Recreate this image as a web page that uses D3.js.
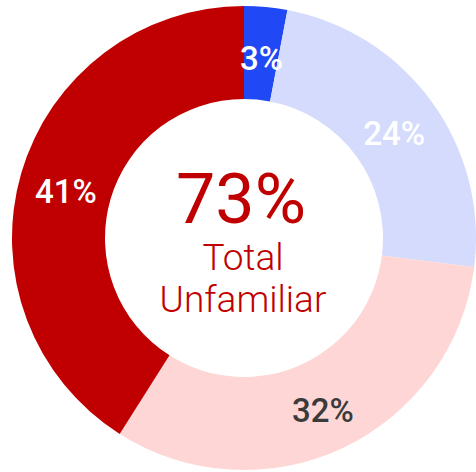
<!DOCTYPE html>
<meta charset="utf-8">
<style>
  body { margin: 0; background: #fff; }
  text { font-family: Roboto, "Liberation Sans", sans-serif; }
</style>
<script src="https://d3js.org/d3.v7.min.js"></script>
<div id="chart"></div>
<script>
  // slices, clockwise from 12 o'clock
  var categories = ["Very familiar", "Somewhat familiar", "Somewhat unfamiliar", "Very unfamiliar"];
  var values = [3, 24, 32, 41];
  var labels = ["3%", "24%", "32%", "41%"];
  var colors = ["#2048f4", "#d4dbfc", "#fed6d6", "#c00000"];
  var labelColors = ["#ffffff", "#ffffff", "#3a3a3a", "#ffffff"];
  var centerValue = "73%";
  var centerLines = ["Total", "Unfamiliar"];

  var width = 476, height = 472;
  var cx = 244, cy = 238;
  var outer = 232, inner = 139;

  var svg = d3.select("#chart")
    .append("svg")
    .attr("width", width)
    .attr("height", height);

  var g = svg.append("g")
    .attr("transform", "translate(" + cx + "," + cy + ")");

  var pie = d3.pie().sort(null).value(function (d) { return d; });
  var arc = d3.arc().innerRadius(inner).outerRadius(outer);
  var labelArc = d3.arc().innerRadius((inner + outer) / 2).outerRadius((inner + outer) / 2);

  var arcs = pie(values);

  g.selectAll("path")
    .data(arcs)
    .enter()
    .append("path")
    .attr("d", arc)
    .attr("fill", function (d, i) { return colors[i]; });

  g.selectAll(".lbl")
    .data(arcs)
    .enter()
    .append("text")
    .attr("class", "lbl")
    .attr("transform", function (d) {
      var c = labelArc.centroid(d);
      return "translate(" + c[0] + "," + (c[1] + 5) + ")";
    })
    .attr("text-anchor", "middle")
    .attr("dominant-baseline", "central")
    .style("font-size", "33px")
    .style("font-weight", 500)
    .style("fill", function (d, i) { return labelColors[i]; })
    .text(function (d, i) { return labels[i]; });

  // centre text
  g.append("text")
    .attr("x", -3)
    .attr("y", -15)
    .attr("text-anchor", "middle")
    .style("font-size", "70px")
    .style("fill", "#c00000")
    .text(centerValue);

  g.selectAll(".sub")
    .data(centerLines)
    .enter()
    .append("text")
    .attr("class", "sub")
    .attr("x", -1)
    .attr("y", function (d, i) { return 32 + i * 42; })
    .attr("text-anchor", "middle")
    .style("font-size", "37px")
    .style("font-weight", 300)
    .style("fill", "#c00000")
    .text(function (d) { return d; });
</script>
